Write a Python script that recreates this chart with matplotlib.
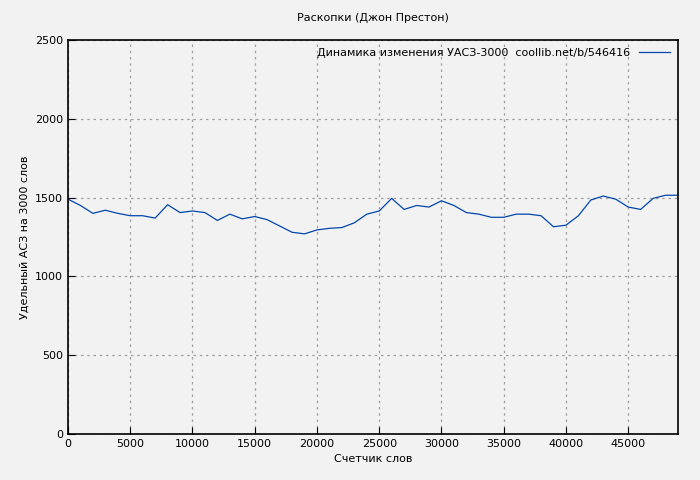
import matplotlib
matplotlib.use("Agg")
import matplotlib.pyplot as plt

words = list(range(0, 50000, 1000))
values = [1490, 1450, 1400, 1420, 1400, 1385, 1385, 1370, 1455, 1405,
          1415, 1405, 1355, 1395, 1365, 1380, 1360, 1320, 1280, 1270,
          1295, 1305, 1310, 1340, 1395, 1415, 1495, 1425, 1450, 1440,
          1480, 1450, 1405, 1395, 1375, 1375, 1395, 1395, 1385, 1315,
          1325, 1385, 1485, 1510, 1490, 1440, 1425, 1495, 1515, 1515]
xticks = list(range(0, 50000, 5000))
yticks = list(range(0, 2501, 500))

plt.rcParams['font.family'] = ['DejaVu Sans']
plt.rcParams['font.size'] = 8

fig = plt.figure(figsize=(7, 4.8), dpi=100, facecolor='#f2f2f2')
ax = fig.add_axes([68/700, 46/480, 610/700, 394/480])
ax.set_facecolor('#f2f2f2')
ax.plot(words, values, color='#0047ab', linewidth=0.9,
        label='Динамика изменения УАСЗ-3000  coollib.net/b/546416')
ax.set_xlim(0, 49000)
ax.set_ylim(0, 2500)
ax.set_xticks(xticks)
ax.set_yticks(yticks)
ax.grid(True, color='#a0a0a0', linestyle=(0, (2, 3)), linewidth=0.9)
ax.tick_params(direction='in', length=5, top=False, right=False)
for s in ax.spines.values():
    s.set_linewidth(1.2)
ax.set_title('Раскопки (Джон Престон)', fontsize=8, pad=14)
ax.set_xlabel('Счетчик слов')
ax.set_ylabel('Удельный АСЗ на 3000 слов')
leg = ax.legend(loc='upper right', frameon=False, handlelength=2.8,
                markerfirst=False, borderaxespad=0.3)
fig.savefig('out.png', dpi=100, facecolor='#f2f2f2')
